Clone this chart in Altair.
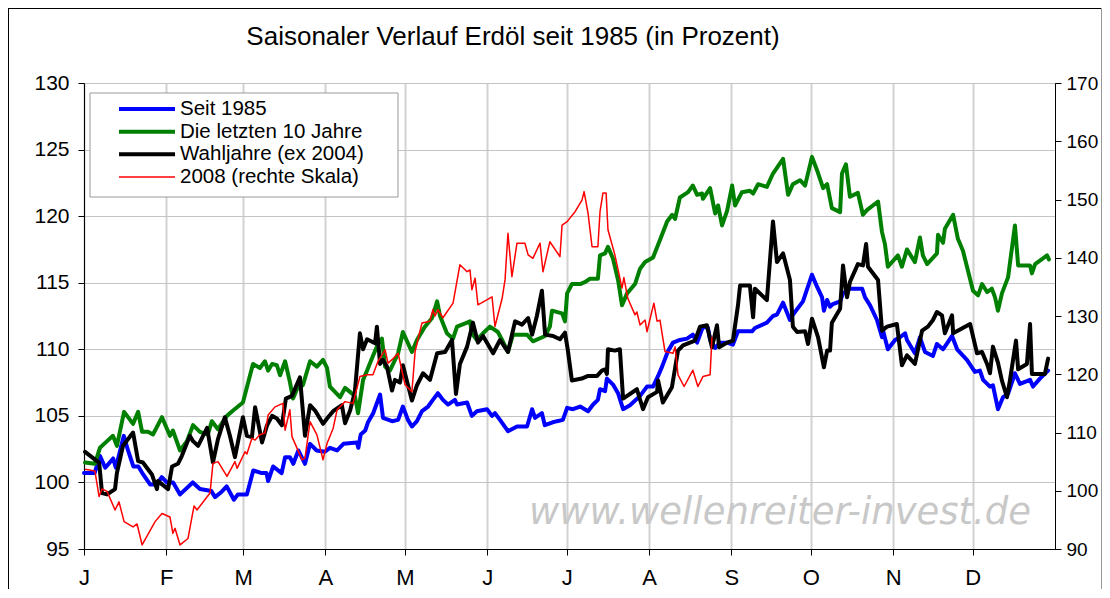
import json
import altair as alt
import pandas as pd

TITLE = "Saisonaler Verlauf Erdöl seit 1985 (in Prozent)"
SERIES = ["Seit 1985", "Die letzten 10 Jahre", "Wahljahre (ex 2004)", "2008 (rechte Skala)"]
COLORS = ["#0000ff", "#008000", "#000000", "#ff0000"]
WIDTHS = [4, 4, 4, 1.5]
MONTH_STARTS = [0, 31, 60, 91, 121, 152, 182, 213, 244, 274, 305, 335]
MONTH_LABELS = ["J", "F", "M", "A", "M", "J", "J", "A", "S", "O", "N", "D"]
LEFT_TICKS = [95, 100, 105, 110, 115, 120, 125, 130]
RIGHT_TICKS = [90, 100, 110, 120, 130, 140, 150, 160, 170]
WATERMARK = "www.wellenreiter-invest.de"

# (day of year, value) -- left scale
blue = [(0, 100.7), (4, 100.7), (6, 102.0), (8, 101.1), (11, 101.8), (12, 101.1), (15, 103.5), (16.6, 102.4),
        (18.6, 101.2), (20.5, 101.2), (22.3, 100.6), (24.9, 99.85), (27.4, 99.85), (29.3, 100.4), (31.2, 100.0),
        (33.6, 100.0), (36.2, 99.1), (41, 100.0), (43.7, 99.5), (48, 99.35), (49.4, 98.9), (51.9, 99.3),
        (53.8, 99.7), (56.5, 98.7), (58, 99.1), (61.4, 99.1), (63.8, 100.9), (67, 100.7), (68.8, 100.7),
        (69.4, 100.1), (71.3, 101.2), (74.5, 100.7), (75.8, 101.9), (77.6, 101.9), (78.9, 101.4), (80.8, 102.4),
        (83.3, 101.4), (85.2, 102.9), (87.7, 102.4), (90.8, 102.3), (92.7, 102.6), (95.4, 102.4), (97.8, 102.9),
        (102.9, 103.0), (103.4, 102.6), (104.3, 103.6), (106, 103.9), (107, 104.5), (109, 105.2), (111.6, 106.6),
        (112.7, 104.85), (116.1, 104.6), (118.4, 104.7), (120.2, 105.7), (122.1, 104.7), (123.6, 104.2),
        (125.5, 104.6), (127.4, 105.35), (129.7, 105.7), (131.5, 106.2), (133.4, 106.7), (135.3, 106.2),
        (137.2, 105.85), (139.8, 106.2), (140.6, 105.85), (144.4, 106.0), (146.2, 105.0), (148.1, 105.35),
        (151.9, 105.5), (153.8, 105.0), (154.9, 105.2), (156.8, 104.7), (159.8, 103.85), (163.2, 104.2),
        (167, 104.2), (168.9, 105.5), (170, 104.85), (172.6, 105.2), (173.7, 104.3), (176.4, 104.5),
        (178.3, 104.6), (180.5, 104.7), (182.1, 105.6), (184.3, 105.5), (187, 105.7), (190, 105.35),
        (191.9, 105.85), (193.7, 106.2), (194.5, 107.0), (196.4, 106.85), (197.1, 107.8), (199.4, 107.35),
        (201.3, 106.7), (203.2, 105.5), (205.8, 105.8), (209.6, 106.5), (212.2, 107.2), (214.5, 107.2),
        (216.4, 108.0), (217.9, 108.7), (220.1, 109.85), (222, 110.5), (224.6, 110.7), (227.3, 110.8),
        (229.5, 111.1), (231.1, 110.5), (233.3, 111.7), (235.2, 111.6), (236, 110.7), (237.9, 110.1),
        (239.7, 110.5), (242.4, 110.5), (244.6, 110.35), (246.5, 111.35), (251.8, 111.35), (252.9, 111.6),
        (257.4, 112.0), (259.7, 112.5), (261.2, 112.6), (263.5, 113.5), (266.1, 112.2), (267.2, 112.6),
        (271, 113.6), (274.4, 115.6), (276.3, 114.7), (278.2, 113.9), (278.9, 112.9), (280.1, 113.7),
        (281.2, 113.2), (282.3, 113.4), (285, 113.6), (286.1, 114.2), (288.7, 114.55), (293.3, 114.55),
        (294.4, 113.9), (296.3, 113.3), (298.9, 112.2), (300.8, 110.9), (301.2, 111.4), (303, 110.0),
        (305.7, 110.7), (307.6, 110.9), (309.5, 111.2), (310.2, 110.7), (313.2, 109.7), (315.1, 110.9),
        (317, 109.8), (320, 109.5), (321.5, 110.4), (323.8, 110.0), (327.2, 111.0), (329.1, 110.0),
        (332.8, 109.2), (335.8, 108.3), (337.7, 108.4), (338.9, 107.7), (341.5, 107.2), (342.6, 107.3),
        (344.5, 105.5), (346.4, 106.4), (348.3, 106.65), (350.9, 108.2), (352.8, 107.4), (356.6, 107.7),
        (357.7, 107.2), (360.3, 107.8), (363.4, 108.4)]

green = [(0.4, 101.5), (4.1, 101.4), (6, 102.6), (8.7, 103.1), (10.9, 103.5), (12.4, 102.75), (15.1, 105.3),
         (18.5, 104.4), (20.4, 105.3), (21.9, 103.8), (24.1, 103.8), (26, 103.6), (29.4, 104.9), (32.4, 103.5),
         (33.5, 103.9), (36.2, 102.4), (38.8, 103.1), (41.1, 104.3), (43.7, 103.8), (46.7, 103.6), (48.2, 104.6),
         (50.5, 104.0), (53.9, 105.0), (56.2, 105.4), (59.9, 106.0), (63.7, 108.9), (66.3, 108.6), (68.2, 109.1),
         (69.4, 108.4), (70.9, 108.9), (72.7, 108.8), (73.9, 108.05), (75.8, 109.1), (77.6, 107.55),
         (78.8, 106.3), (80.7, 107.2), (82.5, 107.3), (85.2, 109.1), (87.8, 108.7), (90.1, 109.2), (91.6, 108.6),
         (92.7, 107.2), (96.5, 106.4), (98.4, 107.1), (102.1, 106.5), (103.3, 105.2), (105.2, 107.7),
         (106.7, 108.4), (108.9, 109.5), (110.8, 110.4), (112.3, 110.8), (113.5, 108.7), (115.3, 108.4),
         (118.4, 109.7), (120.2, 111.3), (123.6, 109.8), (125.5, 110.7), (128.5, 111.7), (131.2, 112.35),
         (133.1, 113.6), (134.2, 112.5), (136.8, 111.2), (139.1, 110.8), (140.6, 111.7), (144.4, 112.0),
         (145.5, 112.1), (146.2, 111.2), (148.1, 110.7), (150.4, 111.2), (153, 111.7), (156, 111.3),
         (157.6, 110.7), (159.8, 109.8), (161.7, 111.1), (167, 111.1), (169.2, 110.6), (173.8, 111.0),
         (175.6, 111.7), (176.4, 112.9), (180.2, 112.7), (181.3, 112.1), (182.1, 114.2), (183.9, 114.9),
         (187, 114.9), (188.8, 115.05), (190.7, 115.3), (193.7, 115.3), (194.5, 117.05), (196.4, 117.2),
         (197.5, 117.7), (199.4, 116.8), (201.3, 115.2), (202.8, 113.3), (204.7, 114.2), (207.7, 114.9),
         (209.6, 116.05), (211.5, 116.55), (214.5, 116.9), (217.1, 118.2), (219.8, 119.6), (221.7, 120.1),
         (222.8, 119.8), (224.6, 121.4), (227.7, 121.8), (229.5, 122.3), (231.1, 121.6), (233, 121.7),
         (233.3, 121.3), (236, 122.1), (237.9, 120.2), (239, 120.8), (240.5, 119.3), (242.4, 120.4),
         (244.3, 122.3), (245.4, 120.8), (248, 121.8), (251, 121.9), (252.2, 121.7), (254.1, 122.4),
         (257.4, 122.2), (259.7, 123.2), (263.5, 124.3), (265.4, 121.6), (267.2, 122.4), (269.9, 122.7),
         (271.8, 122.3), (274.4, 124.45), (276.3, 123.45), (278.6, 122.1), (280.1, 122.4), (281.9, 120.6),
         (285, 120.3), (285.7, 123.2), (287.2, 123.9), (288.7, 121.45), (291.7, 121.75), (293.6, 120.1),
         (295.1, 120.45), (299.3, 121.1), (300.8, 118.8), (301.9, 117.9), (303, 116.2), (306.8, 117.05),
         (308.3, 116.2), (310.2, 117.5), (313.2, 116.55), (315.1, 118.4), (316.2, 117.05), (317.8, 116.4),
         (321.5, 117.2), (321.9, 118.6), (323.8, 118.0), (324.5, 119.05), (327.6, 120.1), (329.4, 118.3),
         (331.3, 117.4), (335.1, 114.4), (337, 114.05), (338.5, 114.9), (340.4, 114.3), (342.2, 114.55),
         (343.4, 113.9), (344.5, 112.9), (346, 114.2), (348.3, 115.4), (350.9, 119.3), (352.1, 116.3),
         (356.6, 116.3), (357.3, 115.7), (358.5, 116.4), (363, 117.05), (363.7, 116.75)]

black = [(0.4, 102.3), (4.9, 101.6), (5.7, 101.5), (6.8, 99.2), (8.7, 99.1), (11.7, 99.5), (12.4, 100.7),
         (14.7, 102.75), (18.5, 103.75), (20.4, 101.6), (22.2, 101.5), (25.6, 100.6), (27.5, 99.5),
         (27.9, 100.1), (31.7, 99.5), (33.2, 101.2), (35.4, 101.4), (36.9, 102.0), (39.9, 103.5), (41.1, 103.1),
         (43, 102.75), (46.4, 104.1), (48.6, 101.5), (50.5, 103.25), (53.1, 104.9), (55, 103.5), (56.9, 101.9),
         (59.9, 104.9), (61.4, 103.5), (63.3, 103.4), (64.5, 105.65), (67.1, 103.0), (69, 104.3), (70.9, 105.0),
         (72.7, 104.8), (74.6, 104.3), (76.1, 106.3), (78.4, 106.5), (81.4, 107.9), (83.3, 103.5),
         (85.2, 105.8), (87.1, 105.4), (90.1, 104.4), (91.6, 104.8), (93.9, 105.35), (97.2, 105.8),
         (98.4, 104.45), (100.3, 105.4), (102.1, 106.8), (104, 111.2), (105.2, 110.0), (106.7, 110.75),
         (109.7, 110.45), (110.4, 111.7), (111.6, 108.9), (112.7, 109.2), (114.2, 108.7), (116.1, 106.9),
         (117.2, 107.7), (119.1, 107.5), (120.2, 108.8), (123.6, 106.15), (125.5, 107.3), (127.8, 108.2),
         (130.4, 107.7), (133.1, 109.7), (136.1, 109.8), (138.7, 110.7), (140.2, 106.65), (141.7, 108.9),
         (144.4, 110.2), (146.6, 112.0), (148.5, 110.5), (150.4, 111.0), (154.2, 109.7), (156.8, 110.7),
         (159.8, 109.8), (162.5, 112.1), (165.1, 111.85), (167.4, 112.35), (168.9, 111.1), (170.7, 112.5),
         (172.6, 114.4), (173.8, 111.1), (176.8, 111.0), (179.4, 110.75), (181.3, 111.25), (182.4, 109.9),
         (183.9, 107.65), (187.6, 107.8), (190, 108.0), (193.4, 108.0), (195.2, 108.4), (196.4, 108.5),
         (197.1, 108.15), (197.5, 110.0), (200.1, 109.9), (202, 110.0), (203.2, 106.3), (208.4, 107.0),
         (210.7, 105.5), (212.6, 106.4), (216, 106.8), (216.4, 107.65), (218.2, 106.0), (221.6, 107.15),
         (223.9, 109.9), (225.8, 110.3), (230.3, 110.65), (232.2, 111.7), (234.8, 111.8), (236.7, 110.15),
         (238.6, 111.8), (239.4, 110.15), (242.4, 110.5), (244.6, 110.65), (246.5, 113.3), (247.3, 114.8),
         (251, 114.8), (252.2, 112.4), (252.9, 114.55), (257.4, 113.7), (259.7, 119.6), (261.2, 116.55),
         (263.5, 117.2), (266.1, 115.2), (267.2, 111.7), (268.8, 111.3), (271.8, 111.35), (272.9, 110.4),
         (274.4, 112.3), (276.7, 110.9), (278.9, 108.65), (280.1, 109.9), (281.2, 109.9), (281.9, 112.0),
         (285, 113.05), (286.1, 116.3), (287.6, 113.9), (288.7, 115.05), (291.7, 116.4), (293.6, 116.3),
         (294.8, 117.9), (295.5, 116.2), (299.3, 115.2), (300.8, 111.4), (302.7, 111.7), (306.4, 111.9),
         (308.3, 108.8), (310.2, 109.55), (313.2, 108.9), (315.9, 111.4), (318.1, 111.7), (320, 112.2),
         (321.5, 112.8), (323.4, 112.55), (324.5, 111.2), (327.2, 112.55), (327.6, 111.2), (334, 111.9),
         (336.6, 109.7), (338.5, 109.8), (340.4, 108.9), (341.5, 108.2), (342.6, 110.2), (344.5, 109.0),
         (346, 107.65), (347.9, 106.4), (349, 107.65), (351.3, 110.65), (352.1, 108.5), (355.4, 108.9),
         (356.6, 111.9), (357.3, 108.15), (362.2, 108.15), (363.4, 109.3)]

# 2008 -- right scale
red = [(0.4, 103.7), (4.1, 103.4), (5.7, 99.0), (6.8, 100.3), (8.7, 99.9), (11.7, 96.7), (13.2, 98.1),
       (15.1, 94.7), (18.5, 93.8), (20, 94.3), (21.9, 90.7), (26.8, 94.7), (29.4, 96.1), (32.4, 95.5),
       (33.5, 92.7), (34.3, 93.55), (36.2, 90.7), (39.2, 91.8), (40.7, 95.5), (41.5, 97.4), (42.6, 96.7),
       (47.5, 99.6), (48.6, 104.7), (50.5, 105.0), (53.9, 102.45), (56.9, 105.0), (57.7, 103.85), (60.7, 106.7),
       (61.4, 106.3), (63.3, 109.0), (64.5, 108.7), (66.3, 109.6), (68.2, 109.9), (69.4, 113.0), (72, 114.4),
       (75, 115.0), (75.8, 110.4), (77.6, 113.9), (78.4, 109.3), (82.2, 105.3), (83.3, 105.6), (85.2, 111.85),
       (87.8, 109.6), (90.1, 105.3), (91.6, 108.1), (93.9, 110.7), (95.4, 113.9), (98.4, 115.3), (101.4, 115.0),
       (104, 119.6), (106.7, 119.9), (108.9, 119.9), (110.8, 122.2), (113.5, 124.2), (114.6, 121.9),
       (116.1, 122.5), (118.4, 123.6), (121, 118.2), (123.6, 117.0), (124.8, 123.9), (127.4, 128.8),
       (130.4, 129.1), (131.5, 131.1), (132.3, 130.0), (133.4, 131.1), (135.3, 129.7), (139.1, 132.2),
       (141.7, 138.8), (144.4, 137.6), (145.5, 137.9), (146.2, 134.5), (147.4, 136.5), (148.5, 131.9),
       (153.8, 133.3), (154.9, 128.2), (157.6, 133.0), (158.7, 136.2), (159.8, 144.2), (161.3, 136.75),
       (163.2, 142.5), (166.2, 142.5), (167.4, 140.5), (169.2, 139.9), (171.9, 142.5), (173, 137.6),
       (175.6, 142.75), (179.4, 140.2), (180.2, 145.6), (182.1, 146.2), (185.1, 147.9), (187.7, 149.9),
       (188.5, 151.35), (190, 147.6), (191.5, 141.9), (193.7, 141.9), (194.5, 147.9), (195.6, 151.1),
       (196.8, 151.1), (197.5, 144.8), (200.1, 140.5), (202.8, 134.8), (203.5, 136.6), (205, 133.0),
       (207.7, 130.2), (208.4, 130.7), (209.6, 128.45), (211.5, 129.3), (212.2, 127.3), (214.8, 132.2),
       (216, 129.1), (217.1, 129.3), (219, 123.9), (222, 123.6), (222.8, 124.7), (223.9, 119.9),
       (226.2, 117.9), (229.5, 120.7), (231.4, 117.9), (233.3, 119.6), (236, 119.9), (236.7, 126.4)]

FONT = "Liberation Sans"


def to_df(pairs, name):
    return pd.DataFrame(pairs, columns=["day", "value"]).assign(series=name)


label_expr = f"{json.dumps(MONTH_LABELS)}[indexof({json.dumps(MONTH_STARTS)}, datum.value)]"

x_enc = alt.X(
    "day:Q",
    scale=alt.Scale(domain=[0, 366], nice=False, zero=False),
    axis=alt.Axis(
        values=MONTH_STARTS, labelExpr=label_expr, title=None, grid=True,
        gridColor="#d2d2d2", gridWidth=2, tickSize=6, tickColor="black",
        domainColor="black", labelFontSize=22, labelPadding=12, labelAngle=0,
        labelFlush=False, labelOverlap=False, labelFont=FONT, labelColor="black",
    ),
)

left_scale = alt.Scale(domain=[95, 130], nice=False, zero=False)
left_axis = alt.Axis(
    values=LEFT_TICKS, orient="left", title=None, grid=True, gridColor="#c4c4c4",
    gridWidth=1, tickSize=6, tickColor="black", domainColor="black",
    labelFontSize=21, labelPadding=9, labelFont=FONT, labelColor="black",
)
right_axis = alt.Axis(
    values=RIGHT_TICKS, orient="right", title=None, grid=False, tickSize=6,
    tickColor="black", domainColor="black", labelFontSize=19, labelPadding=5,
    labelFont=FONT, labelColor="black",
)


def line(pairs, idx, axis):
    return alt.Chart(to_df(pairs, SERIES[idx])).mark_line(
        color=COLORS[idx], strokeWidth=WIDTHS[idx], strokeJoin="round", strokeCap="round"
    ).encode(x=x_enc, y=alt.Y("value:Q", scale=left_scale, axis=axis))


one = pd.DataFrame({"k": [0]})

watermark = alt.Chart(pd.DataFrame({"t": [WATERMARK]})).mark_text(
    font="DejaVu Sans", fontStyle="italic", fontSize=37, color="#c8c8c8",
    align="center", baseline="alphabetic",
).encode(x=alt.value(696), y=alt.value(441), text="t:N")

blue_l = line(blue, 0, left_axis)
green_l = line(green, 1, None)
black_l = line(black, 2, None)
red_l = alt.Chart(to_df(red, SERIES[3])).mark_line(
    color=COLORS[3], strokeWidth=WIDTHS[3], strokeJoin="round"
).encode(
    x=x_enc,
    y=alt.Y("value:Q", scale=alt.Scale(domain=[90, 170], nice=False, zero=False), axis=right_axis),
)

legend_df = pd.DataFrame({"name": SERIES, "color": COLORS, "width": WIDTHS, "row": [0, 1, 2, 3]})
legend_y = alt.Y("row:Q", scale=alt.Scale(domain=[0, 3], range=[26, 94]), axis=None)
legend_box = alt.Chart(one).mark_rect(fill="white", stroke="#999999", strokeWidth=1).encode(
    x=alt.value(6), x2=alt.value(314), y=alt.value(10), y2=alt.value(114)
)
legend_lines = alt.Chart(legend_df).mark_rule().encode(
    x=alt.value(35), x2=alt.value(91), y=legend_y,
    color=alt.Color("color:N", scale=None),
    strokeWidth=alt.StrokeWidth("width:Q", scale=None),
)
legend_text = alt.Chart(legend_df).mark_text(
    align="left", baseline="middle", fontSize=20.5, font=FONT, color="black"
).encode(x=alt.value(96), y=legend_y, text="name:N")

title = alt.Chart(pd.DataFrame({"t": [TITLE]})).mark_text(
    align="center", baseline="middle", fontSize=26, font=FONT, color="black"
).encode(x=alt.value(429), y=alt.value(-46), text="t:N")

frame_left = alt.Chart(one).mark_rule(color="black", strokeWidth=1).encode(
    x=alt.value(-75.5), y=alt.value(-75), y2=alt.value(520)
)
frame_top = alt.Chart(one).mark_rule(color="black", strokeWidth=1).encode(
    x=alt.value(-76), x2=alt.value(1018), y=alt.value(-74.5)
)
frame_right = alt.Chart(one).mark_rule(color="#999999", strokeWidth=1).encode(
    x=alt.value(1017.5), y=alt.value(-75), y2=alt.value(520)
)

chart = alt.layer(
    watermark, blue_l, green_l, black_l, red_l,
    legend_box, legend_lines, legend_text, title,
    frame_left, frame_top, frame_right,
).resolve_scale(y="independent").properties(
    width=971, height=466,
    padding={"left": 76, "top": 75, "right": 47, "bottom": 40},
    autosize=alt.AutoSizeParams(type="none"),
    background="white",
).configure_view(stroke="black", strokeWidth=1)

chart.save("out.html", embed_options={"renderer": "svg", "actions": False})
